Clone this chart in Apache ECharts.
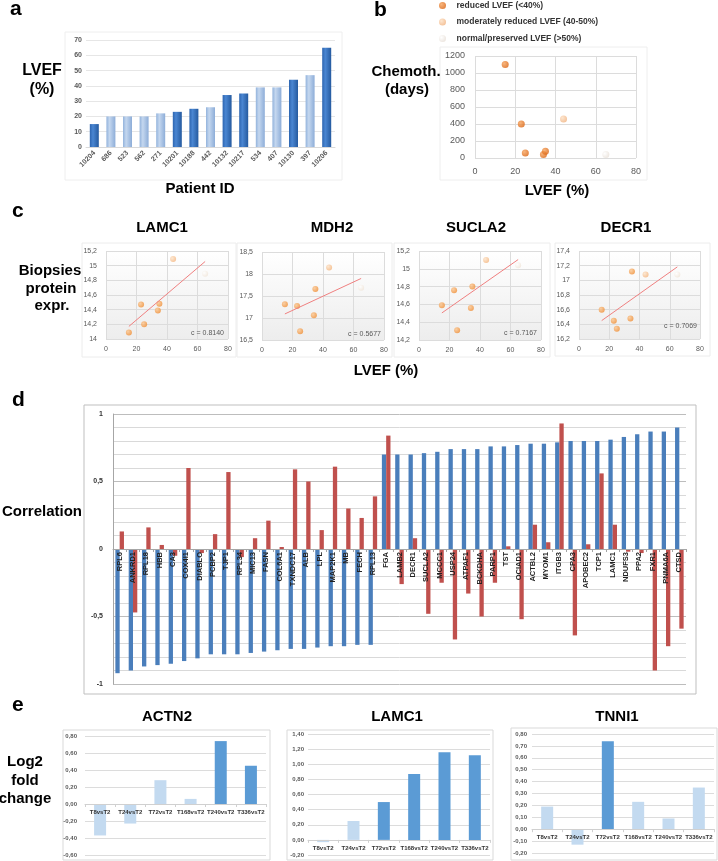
<!DOCTYPE html>
<html>
	<head>
		<meta charset="utf-8">
		<title></title>
		<script src="https://cdn.jsdelivr.net/npm/echarts@6/dist/echarts.min.js"></script>
		<style>
			html, body { margin: 0; padding: 0; background: #fff; }
		</style>
	</head>
	<body>
		<div id="main" style="width: 718px; height: 861px;"></div>
		<script>
			// a - LVEF per patient
			var patientIds = ['10204', '686', '523', '562', '271', '10201', '10188', '442', '10132', '10217', '534', '407', '10130', '397', '10206'];
			var lvefValues = [15, 20, 20, 20, 22, 23, 25, 26, 34, 35, 39, 39, 44, 47, 65];

			// b - chemotherapy days vs LVEF
			var chemoReduced = [[15, 1100], [23, 400], [25, 60], [34, 40], [35, 80]];
			var chemoModerate = [[44, 460]];
			var chemoNormal = [[65, 40]];

			// c - biopsies protein expression vs LVEF
			var biopsyLvef = [15, 23, 25, 34, 35, 44, 65];
			var lamc1Expr = [14.09, 14.47, 14.20, 14.39, 14.48, 15.09, 14.89];
			var mdh2Expr = [17.31, 17.27, 16.70, 17.06, 17.66, 18.15, 17.69];
			var sucla2Expr = [14.59, 14.76, 14.31, 14.56, 14.80, 15.10, 15.04];
			var decr1Expr = [16.60, 16.45, 16.34, 16.48, 17.12, 17.08, 17.08];
			var corrTexts = ['c = 0.8140', 'c = 0.5677', 'c = 0.7167', 'c = 0.7069'];

			// d - correlation
			var proteins = ['RPL6', 'ANKRD1', 'RPL18', 'HBB', 'CA3', 'COX4I1', 'DIABLO', 'PCBP2', 'TJP1', 'RPL34', 'MIC13', 'FASN', 'COL6A1', 'TXNDC17', 'ALB', 'LPL', 'MAP2K1', 'MB', 'FECH', 'RPL13', 'FGA', 'LAMB2', 'DECR1', 'SUCLA2', 'MCCC1', 'USP24', 'ATPAF1', 'BCKDHA', 'PARP1', 'TST', 'OCIAD1', 'ACTBL2', 'MYOM1', 'ITGB3', 'CPA3', 'APOBEC2', 'TCP1', 'LAMC1', 'NDUFS3', 'PPA2', 'FXR1', 'PNMA6A', 'CTSD'];
			var corrBlue = [-0.92, -0.90, -0.87, -0.86, -0.85, -0.83, -0.81, -0.78, -0.78, -0.78, -0.77, -0.76, -0.75, -0.74, -0.74, -0.73, -0.72, -0.72, -0.71, -0.71, 0.70, 0.70, 0.70, 0.71, 0.72, 0.74, 0.74, 0.74, 0.76, 0.76, 0.77, 0.78, 0.78, 0.79, 0.80, 0.80, 0.80, 0.81, 0.83, 0.85, 0.87, 0.87, 0.90];
			var corrRed = [0.13, -0.47, 0.16, 0.03, -0.05, 0.60, -0.03, 0.11, 0.57, -0.06, 0.08, 0.21, 0.015, 0.59, 0.50, 0.14, 0.61, 0.30, 0.23, 0.39, 0.84, -0.26, 0.08, -0.48, -0.25, -0.67, -0.33, -0.50, -0.25, 0.02, -0.52, 0.18, 0.05, 0.93, -0.64, 0.035, 0.56, 0.18, -0.02, -0.03, -0.90, -0.72, -0.59];

			// e - log2 fold change
			var timePoints = ['T8vsT2', 'T24vsT2', 'T72vsT2', 'T168vsT2', 'T240vsT2', 'T336vsT2'];
			var actn2Fc = [-0.37, -0.23, 0.28, 0.06, 0.74, 0.45];
			var lamc1Fc = [-0.03, 0.25, 0.50, 0.87, 1.16, 1.12];
			var tnni1Fc = [0.19, -0.13, 0.74, 0.23, 0.09, 0.35];
			var actn2Dark = [0, 0, 0, 0, 1, 1];
			var lamc1Dark = [0, 0, 1, 1, 1, 1];
			var tnni1Dark = [0, 0, 1, 0, 0, 0];

			var FONT = '"Liberation Sans", Arial, sans-serif';
			var GRAY = '#595959';
			var LG = echarts.graphic.LinearGradient;
			var RG = echarts.graphic.RadialGradient;

			function numComma(v) {
				if (Math.abs(v) < 1e-9) v = 0;
				return String(+v.toFixed(2)).replace('.', ',');
			}
			function fixed2(v) {
				if (Math.abs(v) < 1e-9) v = 0;
				return v.toFixed(2).replace('.', ',');
			}
			function linFit(xs, ys) {
				var n = xs.length, mx = 0, my = 0, sxy = 0, sxx = 0, i;
				for (i = 0; i < n; i++) { mx += xs[i]; my += ys[i]; }
				mx /= n; my /= n;
				for (i = 0; i < n; i++) {
					sxy += (xs[i] - mx) * (ys[i] - my);
					sxx += (xs[i] - mx) * (xs[i] - mx);
				}
				var k = sxy / sxx;
				var x0 = Math.min.apply(null, xs), x1 = Math.max.apply(null, xs);
				return [[x0, my + k * (x0 - mx)], [x1, my + k * (x1 - mx)]];
			}
			function ball(light, base) {
				return new RG(0.35, 0.35, 0.75, [{ offset: 0, color: light }, { offset: 1, color: base }]);
			}
			function dotColor(lvef) {
				if (lvef < 40) return ball('#fbc690', '#ef8a2e');
				if (lvef <= 50) return ball('#fde3c8', '#f3b27a');
				return ball('#ffffff', '#efe3d6');
			}
			// pixels from the bottom of a grid up to the zero line
			function zeroLift(height, min, max) {
				return -height * (0 - min) / (max - min);
			}

			var grids = [], xAxes = [], yAxes = [], series = [], graphics = [];

			function addGrid(g) {
				g.outerBoundsMode = 'none';
				g.containLabel = false;
				grids.push(g);
				return grids.length - 1;
			}
			function frame(x, y, w, h, color) {
				graphics.push({ type: 'rect', z: -10, shape: { x: x, y: y, width: w, height: h }, style: { fill: 'none', stroke: color, lineWidth: 1 } });
			}
			function label(text, x, y, size, align) {
				graphics.push({ type: 'text', z: 10, style: { text: text, x: x, y: y, font: 'bold ' + size + 'px ' + FONT, fill: '#000', align: align || 'center', verticalAlign: 'middle' } });
			}
			function smallText(text, x, y) {
				graphics.push({ type: 'text', z: 10, style: { text: text, x: x, y: y, font: '7px ' + FONT, fill: GRAY, align: 'right', verticalAlign: 'middle' } });
			}

			// ---------- a ----------
			var ga = addGrid({ left: 86, top: 40, width: 249, height: 107 });
			xAxes.push({
				gridIndex: ga, type: 'category', data: patientIds,
				axisLine: { lineStyle: { color: '#d9d9d9' } }, axisTick: { show: false },
				axisLabel: { rotate: 45, interval: 0, fontSize: 7, fontWeight: 'bold', color: GRAY, margin: 5, fontFamily: FONT }
			});
			yAxes.push({
				gridIndex: ga, type: 'value', min: 0, max: 70, interval: 10,
				axisLine: { show: false }, axisTick: { show: false },
				axisLabel: { fontSize: 7, fontWeight: 'bold', color: GRAY, margin: 4, fontFamily: FONT },
				splitLine: { lineStyle: { color: '#e6e6e6' } }
			});
			var darkBar = new LG(0, 0, 1, 0, [{ offset: 0, color: '#2d65b0' }, { offset: 0.35, color: '#4a86d2' }, { offset: 1, color: '#255a9f' }]);
			var lightBar = new LG(0, 0, 1, 0, [{ offset: 0, color: '#93b3dc' }, { offset: 0.35, color: '#c4d7ef' }, { offset: 1, color: '#8dadd8' }]);
			series.push({
				type: 'bar', xAxisIndex: ga, yAxisIndex: ga, barWidth: 9,
				data: lvefValues.map(function (v, i) {
					return { value: v, itemStyle: { color: patientIds[i].length === 5 ? darkBar : lightBar } };
				})
			});
			frame(65, 32, 277, 148, '#eeeeee');
			label('a', 10, 9, 21, 'left');
			label('LVEF', 42, 71, 16);
			label('(%)', 42, 90, 16);
			label('Patient ID', 200, 189, 15);

			// ---------- b ----------
			var gb = addGrid({ left: 475, top: 56, width: 161, height: 102 });
			xAxes.push({
				gridIndex: gb, type: 'value', min: 0, max: 80, interval: 20,
				axisLine: { show: false }, axisTick: { show: false },
				axisLabel: { fontSize: 9, color: GRAY, margin: 9, fontFamily: FONT },
				splitLine: { show: true, lineStyle: { color: '#dcdcdc' } }
			});
			yAxes.push({
				gridIndex: gb, type: 'value', min: 0, max: 1200, interval: 200,
				axisLine: { show: false }, axisTick: { show: false },
				axisLabel: { fontSize: 9, color: GRAY, margin: 10, fontFamily: FONT, formatter: function (v) { return String(v); } },
				splitLine: { lineStyle: { color: '#dcdcdc' } }
			});
			var bNames = ['reduced LVEF (<40%)', 'moderately reduced LVEF (40-50%)', 'normal/preserved LVEF (>50%)'];
			var bColors = [ball('#f6a35c', '#d9600c'), ball('#fde0c4', '#f0b07c'), ball('#ffffff', '#e6ddd4')];
			[chemoReduced, chemoModerate, chemoNormal].forEach(function (d, i) {
				series.push({
					name: bNames[i], type: 'scatter', xAxisIndex: gb, yAxisIndex: gb,
					symbolSize: 7, data: d, itemStyle: { color: bColors[i] }
				});
			});
			frame(440, 47, 207, 133, '#eeeeee');
			label('b', 374, 10, 21, 'left');
			label('Chemoth.', 406, 72, 15);
			label('(days)', 407, 90, 15);
			label('LVEF (%)', 557, 191, 15);

			// ---------- c ----------
			var cPanels = [
				{ title: 'LAMC1', expr: lamc1Expr, min: 14, max: 15.2, step: 0.2, grid: { left: 106, top: 251, width: 122, height: 88 }, frame: [82, 243, 154, 114], tx: 162, c: [224, 333] },
				{ title: 'MDH2', expr: mdh2Expr, min: 16.5, max: 18.5, step: 0.5, grid: { left: 262, top: 252, width: 122, height: 88 }, frame: [237, 243, 155, 114], tx: 332, c: [381, 334] },
				{ title: 'SUCLA2', expr: sucla2Expr, min: 14.2, max: 15.2, step: 0.2, grid: { left: 419, top: 251, width: 122, height: 89 }, frame: [394, 243, 156, 114], tx: 476, c: [537, 333] },
				{ title: 'DECR1', expr: decr1Expr, min: 16.2, max: 17.4, step: 0.2, grid: { left: 579, top: 251, width: 121, height: 88 }, frame: [555, 243, 155, 113], tx: 626, c: [697, 326] }
			];
			cPanels.forEach(function (p, k) {
				var g = p.grid;
				g.show = true;
				g.borderWidth = 0;
				g.backgroundColor = new LG(0, 0, 0, 1, [{ offset: 0, color: '#ffffff' }, { offset: 1, color: '#ededed' }]);
				var gi = addGrid(g);
				xAxes.push({
					gridIndex: gi, type: 'value', min: 0, max: 80, interval: 20,
					axisLine: { show: false }, axisTick: { show: false },
					axisLabel: { fontSize: 7, color: GRAY, margin: 7, fontFamily: FONT },
					splitLine: { show: true, lineStyle: { color: '#dcdcdc' } }
				});
				yAxes.push({
					gridIndex: gi, type: 'value', min: p.min, max: p.max, interval: p.step,
					axisLine: { show: false }, axisTick: { show: false },
					axisLabel: { fontSize: 7, color: GRAY, margin: 9, fontFamily: FONT, formatter: numComma },
					splitLine: { lineStyle: { color: '#dcdcdc' } }
				});
				series.push({
					type: 'line', xAxisIndex: gi, yAxisIndex: gi, symbol: 'none', silent: true,
					data: linFit(biopsyLvef, p.expr), lineStyle: { color: '#f08080', width: 1 }
				});
				series.push({
					type: 'scatter', xAxisIndex: gi, yAxisIndex: gi, symbolSize: 6,
					data: biopsyLvef.map(function (x, i) {
						return { value: [x, p.expr[i]], itemStyle: { color: dotColor(x) } };
					})
				});
				frame(p.frame[0], p.frame[1], p.frame[2], p.frame[3], '#ececec');
				label(p.title, p.tx, 228, 15);
				smallText(corrTexts[k], p.c[0], p.c[1]);
			});
			label('c', 12, 211, 21, 'left');
			label('Biopsies', 50, 271, 15);
			label('protein', 51, 289, 15);
			label('expr.', 52, 306, 15);
			label('LVEF (%)', 386, 371, 15);

			// ---------- d ----------
			var dGrid = { left: 113, top: 414, width: 573, height: 270 };
			var gd = addGrid(dGrid);
			xAxes.push({
				gridIndex: gd, type: 'category', data: proteins, z: 5,
				offset: zeroLift(dGrid.height, -1, 1),
				axisLine: { onZero: false, lineStyle: { color: '#a6a6a6' } },
				axisTick: { show: true, length: 3, lineStyle: { color: '#a6a6a6' } },
				axisLabel: { rotate: 90, interval: 0, fontSize: 7.5, fontWeight: 'bold', color: '#222', margin: 3, fontFamily: FONT }
			});
			yAxes.push({
				gridIndex: gd, type: 'value', min: -1, max: 1, interval: 0.5,
				axisLine: { show: true, lineStyle: { color: '#a6a6a6' } }, axisTick: { show: false },
				axisLabel: { fontSize: 7, fontWeight: 'bold', color: '#333', margin: 10, fontFamily: FONT, formatter: numComma },
				splitLine: { lineStyle: { color: '#bdbdbd' } },
				minorTick: { show: false, splitNumber: 5 },
				minorSplitLine: { show: true, lineStyle: { color: '#d9d9d9' } }
			});
			series.push({
				type: 'bar', xAxisIndex: gd, yAxisIndex: gd, barWidth: 4.3, barGap: '0%',
				data: corrBlue, itemStyle: { color: '#4a7ebb' }
			});
			series.push({
				type: 'bar', xAxisIndex: gd, yAxisIndex: gd, barWidth: 4.3, barGap: '0%',
				data: corrRed, itemStyle: { color: '#c0504d' }
			});
			frame(84, 405, 612, 289, '#bfbfbf');
			label('d', 12, 400, 21, 'left');
			label('Correlation', 42, 512, 15);

			// ---------- e ----------
			var ePanels = [
				{ title: 'ACTN2', fc: actn2Fc, dark: actn2Dark, min: -0.6, max: 0.8, step: 0.2, grid: { left: 85, top: 736, width: 181, height: 119 }, frame: [63, 730, 207, 130], tx: 167, margin: 8 },
				{ title: 'LAMC1', fc: lamc1Fc, dark: lamc1Dark, min: -0.2, max: 1.4, step: 0.2, grid: { left: 308, top: 734, width: 182, height: 121 }, frame: [287, 730, 206, 130], tx: 397, margin: 4 },
				{ title: 'TNNI1', fc: tnni1Fc, dark: tnni1Dark, min: -0.2, max: 0.8, step: 0.1, grid: { left: 532, top: 734, width: 182, height: 119 }, frame: [511, 728, 206, 132], tx: 617, margin: 5 }
			];
			ePanels.forEach(function (p) {
				var gi = addGrid(p.grid);
				xAxes.push({
					gridIndex: gi, type: 'category', data: timePoints, z: 5,
					offset: zeroLift(p.grid.height, p.min, p.max),
					axisLine: { onZero: false, lineStyle: { color: '#d0d0d0' } },
					axisTick: { show: true, length: 3, lineStyle: { color: '#d0d0d0' } },
					axisLabel: { interval: 0, fontSize: 6, fontWeight: 'bold', color: '#333', margin: 5, fontFamily: FONT }
				});
				yAxes.push({
					gridIndex: gi, type: 'value', min: p.min, max: p.max, interval: p.step,
					axisLine: { show: false }, axisTick: { show: false },
					axisLabel: { fontSize: 6, fontWeight: 'bold', color: GRAY, margin: p.margin, fontFamily: FONT, formatter: fixed2 },
					splitLine: { lineStyle: { color: '#dcdcdc' } }
				});
				series.push({
					type: 'bar', xAxisIndex: gi, yAxisIndex: gi, barWidth: 12,
					data: p.fc.map(function (v, i) {
						return { value: v, itemStyle: { color: p.dark[i] ? '#5b9bd5' : '#c3daf0' } };
					})
				});
				frame(p.frame[0], p.frame[1], p.frame[2], p.frame[3], '#d9d9d9');
				label(p.title, p.tx, 717, 15);
			});
			label('e', 12, 705, 21, 'left');
			label('Log2', 25, 762, 15);
			label('fold', 25, 781, 15);
			label('change', 25, 799, 15);

			var option = {
				backgroundColor: '#ffffff',
				animation: false,
				textStyle: { fontFamily: FONT },
				legend: {
					data: bNames, orient: 'vertical', left: 434, top: -5,
					itemWidth: 18, itemHeight: 7, itemGap: 5.5, icon: 'circle',
					textStyle: { fontSize: 8.5, fontWeight: 'bold', color: '#333', lineHeight: 11, fontFamily: FONT }
				},
				grid: grids,
				xAxis: xAxes,
				yAxis: yAxes,
				series: series,
				graphic: graphics
			};

			var myChart = echarts.init(document.getElementById('main'));
			myChart.setOption(option);
		</script>
	</body>
</html>
